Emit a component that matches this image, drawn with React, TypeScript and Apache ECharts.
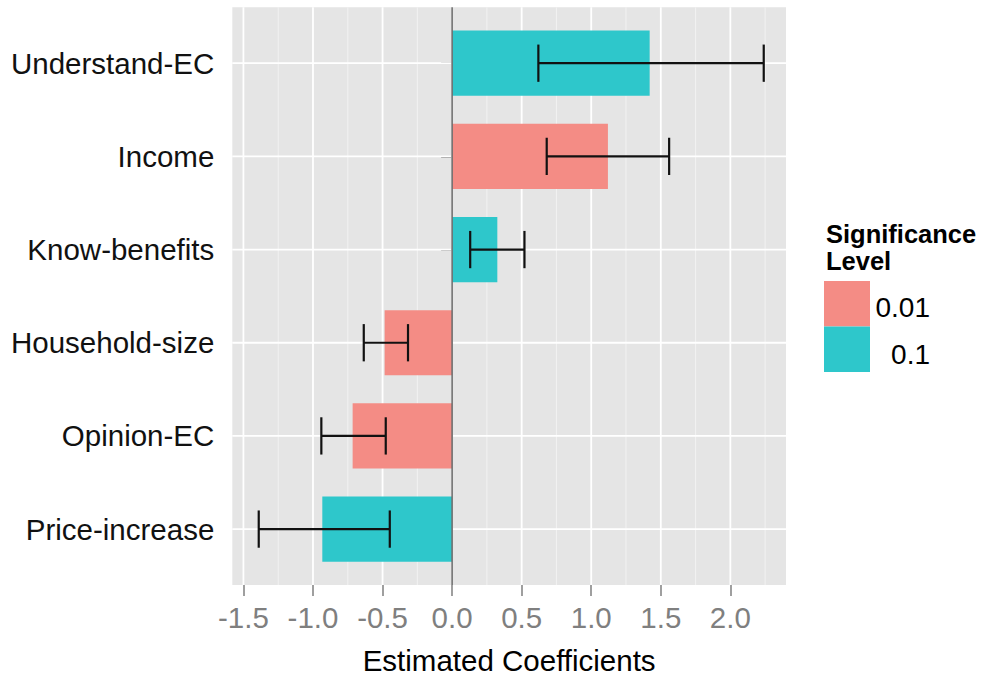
import React, { useEffect, useRef } from "react";
import * as echarts from "echarts";

const categories = ["Understand-EC", "Income", "Know-benefits", "Household-size", "Opinion-EC", "Price-increase"];
const estimates = [1.42, 1.12, 0.325, -0.485, -0.715, -0.933];
const lowerCI = [0.62, 0.68, 0.13, -0.635, -0.94, -1.39];
const upperCI = [2.24, 1.56, 0.52, -0.317, -0.477, -0.448];
const significance = ["0.1", "0.01", "0.1", "0.01", "0.01", "0.1"];
const sigLevels = ["0.01", "0.1"];
const sigColors = ["#F48C85", "#2EC7CB"];
const majorTicks = [-1.5, -1.0, -0.5, 0.0, 0.5, 1.0, 1.5, 2.0];
const minorTicks = [-1.25, -0.75, -0.25, 0.25, 0.75, 1.25, 1.75, 2.25];
const xTitle = "Estimated Coefficients";
const legendTitle = "Significance\nLevel";

const X_MIN = -1.58;
const X_MAX = 2.4;
const Y_MIN = 0.4;
const Y_MAX = 6.6;
const FONT = "'Liberation Sans', Arial, sans-serif";

export default function App() {
  const ref = useRef<HTMLDivElement>(null);
  useEffect(() => {
    if (!ref.current) return;
    const chart = echarts.init(ref.current, null, { renderer: "svg" });
    const positions = categories.map((_, i) => i + 1);

    const vLine = (color: string, width: number) => (params: any, api: any) => {
      const v = api.value(0);
      const a = api.coord([v, Y_MIN]);
      const b = api.coord([v, Y_MAX]);
      return {
        type: "line",
        shape: { x1: a[0], y1: a[1], x2: b[0], y2: b[1] },
        style: { stroke: color, lineWidth: width },
      };
    };

    const option: any = {
      animation: false,
      textStyle: { fontFamily: FONT },
      grid: {
        left: 232.3,
        top: 7.3,
        right: 198,
        bottom: 92,
        show: true,
        backgroundColor: "#E5E5E5",
        borderWidth: 0,
        containLabel: false,
        outerBoundsMode: "none",
      },
      xAxis: {
        type: "value",
        min: X_MIN,
        max: X_MAX,
        splitLine: { show: false },
        axisLine: { show: false },
        axisTick: {
          show: true,
          customValues: majorTicks,
          length: 11,
          lineStyle: { color: "#7F7F7F", width: 1.5 },
        },
        axisLabel: {
          customValues: majorTicks,
          formatter: (v: number) => v.toFixed(1),
          color: "#7F7F7F",
          fontSize: 29.5,
          margin: 17,
          fontFamily: FONT,
        },
        name: xTitle,
        nameLocation: "middle",
        nameGap: 60,
        nameTextStyle: { color: "#000", fontSize: 29.5, fontFamily: FONT },
      },
      yAxis: {
        type: "value",
        inverse: true,
        min: Y_MIN,
        max: Y_MAX,
        splitLine: { show: false },
        axisLine: { show: false },
        axisTick: {
          show: true,
          customValues: positions,
          length: 11,
          lineStyle: { color: "#7F7F7F", width: 1.5 },
        },
        axisLabel: {
          customValues: positions,
          formatter: (v: number) => categories[Math.round(v) - 1] ?? "",
          color: "#111",
          fontSize: 29.5,
          margin: 18,
          padding: [4, 0, 0, 0],
          fontFamily: FONT,
        },
      },
      series: [
        {
          type: "custom",
          z: 1,
          silent: true,
          clip: false,
          data: minorTicks.map((v) => [v, 1]),
          encode: { x: 0, y: 1 },
          renderItem: vLine("#F2F2F2", 1),
        },
        {
          type: "custom",
          z: 2,
          silent: true,
          clip: false,
          data: majorTicks.map((v) => [v, 1]),
          encode: { x: 0, y: 1 },
          renderItem: vLine("#FFFFFF", 1.8),
        },
        {
          type: "custom",
          z: 2,
          silent: true,
          clip: false,
          data: positions.map((p) => [0, p]),
          encode: { x: 0, y: 1 },
          renderItem: (params: any, api: any) => {
            const p = api.value(1);
            const a = api.coord([X_MIN, p]);
            const b = api.coord([X_MAX, p]);
            return {
              type: "line",
              shape: { x1: a[0], y1: a[1], x2: b[0], y2: b[1] },
              style: { stroke: "#FFFFFF", lineWidth: 1.8 },
            };
          },
        },
        {
          type: "custom",
          z: 3,
          clip: false,
          data: positions.map((p, i) => [p, estimates[i], sigLevels.indexOf(significance[i])]),
          encode: { x: 1, y: 0 },
          renderItem: (params: any, api: any) => {
            const p = api.value(0);
            const v = api.value(1);
            const c = api.value(2);
            const s = api.coord([0, p]);
            const e = api.coord([v, p]);
            const h = api.size([0, 0.7])[1];
            return {
              type: "rect",
              shape: {
                x: Math.min(s[0], e[0]),
                y: s[1] - h / 2,
                width: Math.abs(e[0] - s[0]),
                height: h,
              },
              style: { fill: sigColors[c] },
            };
          },
        },
        {
          type: "custom",
          z: 4,
          silent: true,
          clip: false,
          data: [[0, 1]],
          encode: { x: 0, y: 1 },
          renderItem: vLine("#6E6E6E", 1.6),
        },
        {
          type: "custom",
          z: 5,
          clip: false,
          data: positions.map((p, i) => [p, lowerCI[i], upperCI[i]]),
          encode: { x: [1, 2], y: 0 },
          renderItem: (params: any, api: any) => {
            const p = api.value(0);
            const lo = api.coord([api.value(1), p]);
            const hi = api.coord([api.value(2), p]);
            const hh = api.size([0, 0.4])[1] / 2;
            const st = { stroke: "#111", lineWidth: 2.2 };
            return {
              type: "group",
              children: [
                { type: "line", shape: { x1: lo[0], y1: lo[1], x2: hi[0], y2: hi[1] }, style: st },
                { type: "line", shape: { x1: lo[0], y1: lo[1] - hh, x2: lo[0], y2: lo[1] + hh }, style: st },
                { type: "line", shape: { x1: hi[0], y1: hi[1] - hh, x2: hi[0], y2: hi[1] + hh }, style: st },
              ],
            };
          },
        },
      ],
      graphic: [
        {
          type: "text",
          left: 826,
          top: 220,
          style: {
            text: legendTitle,
            font: `bold 25.5px ${FONT}`,
            lineHeight: 27,
            fill: "#000",
          },
        },
        ...sigLevels.map((lvl, i) => ({
          type: "rect",
          shape: { x: 824, y: 281 + i * 45.5, width: 46, height: 45.5 },
          style: { fill: sigColors[i] },
        })),
        ...sigLevels.map((lvl, i) => ({
          type: "text",
          x: 930,
          y: 307 + i * 47,
          style: {
            text: lvl,
            font: `28px ${FONT}`,
            fill: "#000",
            align: "right",
            verticalAlign: "middle",
          },
        })),
      ],
    };
    chart.setOption(option);
    return () => chart.dispose();
  }, []);
  return (
    <div
      ref={ref}
      style={{ position: "absolute", left: 0, top: 0, width: 984, height: 677 }}
    />
  );
}
